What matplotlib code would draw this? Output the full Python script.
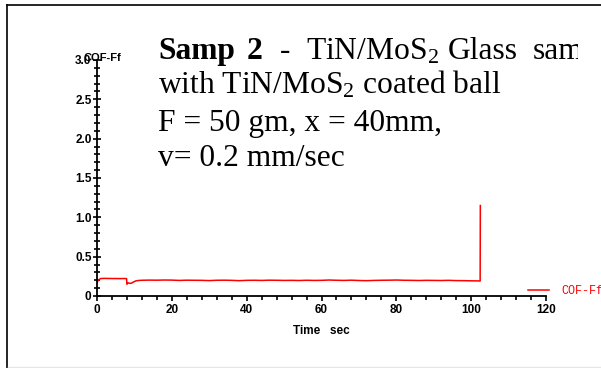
import matplotlib
matplotlib.use('Agg')
import matplotlib.pyplot as plt
from matplotlib.lines import Line2D
from matplotlib.transforms import Bbox

plt.rcParams['mathtext.fontset'] = 'custom'
plt.rcParams['mathtext.rm'] = 'Liberation Serif'
plt.rcParams['mathtext.it'] = 'Liberation Serif:italic'
plt.rcParams['mathtext.bf'] = 'Liberation Serif:bold'

# Reibwert-Messung (Zeit in s, COF)
zeit = [0, 0.4, 1, 2, 3, 4, 5, 6, 7, 7.9, 8.0, 8.3, 8.8, 9.3, 9.8, 10.4, 11,
        12, 14, 16, 18, 20, 22, 24, 26, 28, 30, 32, 34, 36, 38, 40, 42, 44,
        46, 48, 50, 52, 54, 56, 58, 60, 62, 64, 66, 68, 70, 72, 74, 76, 78,
        80, 82, 84, 86, 88, 90, 92, 94, 96, 98, 100, 102, 102.4, 102.45]
cof = [0.170, 0.205, 0.222, 0.224, 0.223, 0.222, 0.222, 0.221, 0.222, 0.221,
       0.150, 0.168, 0.160, 0.165, 0.180, 0.192, 0.197,
       0.200, 0.202, 0.201, 0.203, 0.202, 0.198, 0.201, 0.200, 0.199, 0.196,
       0.200, 0.201, 0.199, 0.195, 0.199, 0.200, 0.198, 0.201, 0.200, 0.198,
       0.199, 0.197, 0.200, 0.198, 0.199, 0.203, 0.200, 0.198, 0.201, 0.197,
       0.195, 0.198, 0.200, 0.201, 0.203, 0.200, 0.199, 0.197, 0.199, 0.198,
       0.197, 0.199, 0.196, 0.195, 0.193, 0.192, 0.190, 1.15]

W, H = 601, 368
fig = plt.figure(figsize=(W / 100, H / 100), dpi=100)

def px(x, y):
    return x / W, (H - y) / H

ax = fig.add_axes([97 / W, (H - 296) / H, 449 / W, 236 / H])
ax.plot(zeit, cof, color='#ff0000', lw=1.1, label='COF-Ff')

ax.set_xlim(0, 120)
ax.set_ylim(0, 3.0)
for s in ['top', 'right']:
    ax.spines[s].set_visible(False)
for s in ['left', 'bottom']:
    ax.spines[s].set_linewidth(1.3)

ax.set_xticks(range(0, 121, 20))
ax.set_xticks(range(0, 121, 4), minor=True)
ax.set_yticks([0, 0.5, 1.0, 1.5, 2.0, 2.5, 3.0])
ax.set_yticklabels(['0', '0.5', '1.0', '1.5', '2.0', '2.5', '3.0'])
ax.set_yticks([i / 10 for i in range(31)], minor=True)
ax.tick_params(axis='x', which='major', direction='out', length=3.6, width=1.2, pad=2.5)
ax.tick_params(axis='x', which='minor', direction='out', length=2.6, width=1.2)
ax.tick_params(axis='y', which='major', direction='inout', length=5.8, width=1.2, pad=1)
ax.tick_params(axis='y', which='minor', direction='inout', length=3.8, width=1.2)
for lab in ax.get_xticklabels() + ax.get_yticklabels():
    lab.set_fontfamily('Liberation Sans')
    lab.set_fontweight('bold')
    lab.set_fontsize(8.5)

ax.set_xlabel('Time   sec', fontfamily='Liberation Sans', fontweight='bold',
              fontsize=8.5, labelpad=6)
fig.text(*px(84, 58), 'COF-Ff', fontfamily='Liberation Sans', fontweight='bold',
         fontsize=8, va='center', ha='left')

ax.legend(loc='center left', bbox_to_anchor=px(528, 291), bbox_transform=fig.transFigure,
          frameon=False, borderpad=0, borderaxespad=0, handlelength=1.8,
          handletextpad=1.0, prop={'family': 'Liberation Mono', 'size': 8.5},
          labelcolor='#ff0000')

# Beschreibungstext
clip = Bbox.from_extents(0, 0, 578, H)
fs = 22.7
serif = 'Liberation Serif'
zeile1 = [(158, 'Samp', 'bold'), (247, '2', 'bold'), (280, '-', 'normal'),
          (306, r'TiN/MoS$_\mathrm{2}$', 'normal'), (448, 'Glass', 'normal'),
          (533, 'sample', 'normal')]
for x, txt, fw in zeile1:
    t = fig.text(*px(x, 59), txt, fontfamily=serif, fontweight=fw, fontsize=fs,
                 va='baseline', ha='left')
    t.set_clip_box(clip)
    t.set_clip_on(True)
fig.text(*px(158, 94), r'with TiN/MoS$_\mathrm{2}$ coated ball', fontfamily=serif,
         fontsize=fs, va='baseline', ha='left')
fig.text(*px(158, 131), 'F = 50 gm, x = 40mm,', fontfamily=serif, fontsize=fs,
         va='baseline', ha='left')
fig.text(*px(158, 166), 'v= 0.2 mm/sec', fontfamily=serif, fontsize=fs,
         va='baseline', ha='left')

# Rahmen
fig.add_artist(Line2D([7 / W, 7 / W], [0, (H - 5) / H], transform=fig.transFigure,
                      color='black', lw=1.2))
fig.add_artist(Line2D([7 / W, 1], [(H - 5) / H, (H - 5) / H], transform=fig.transFigure,
                      color='black', lw=1.2))
fig.add_artist(Line2D([8 / W, 1], [0.7 / H, 0.7 / H], transform=fig.transFigure,
                      color='#e6e6e6', lw=1.0))

fig.savefig('out.png', dpi=100)
